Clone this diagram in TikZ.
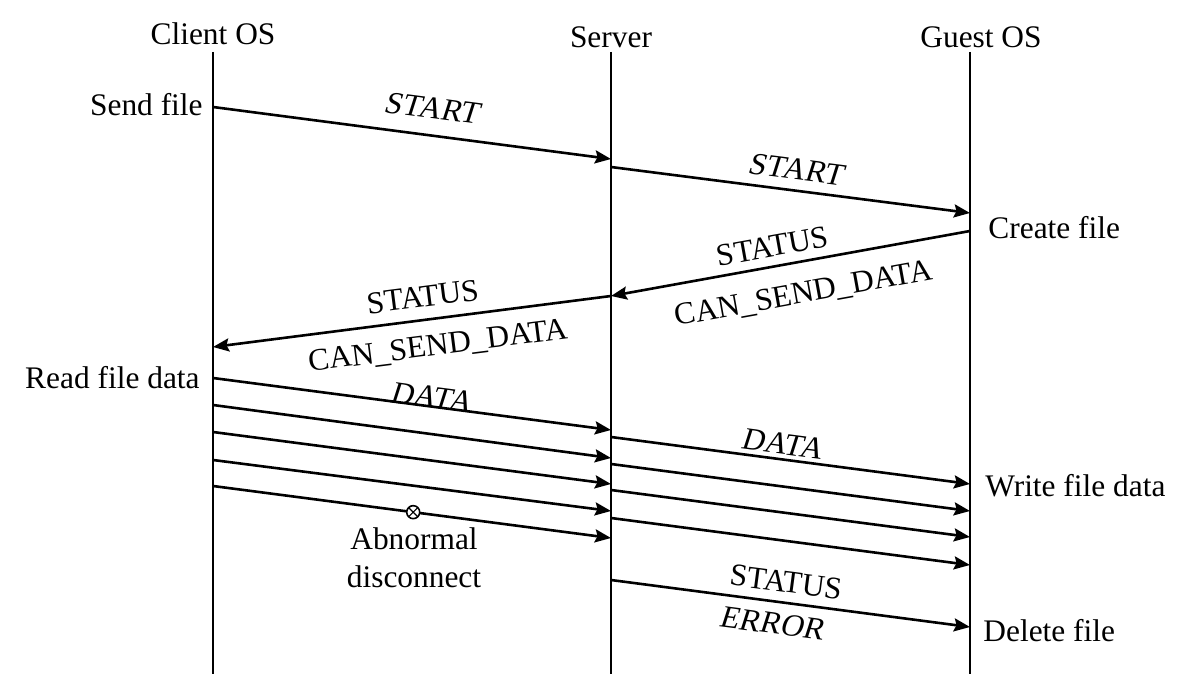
\documentclass[tikz,border=0pt]{standalone}
\usepackage{fontspec}
\setmainfont{Liberation Serif}
\newfontfamily\slantrm[FakeSlant=0.18]{Liberation Serif}
\usetikzlibrary{arrows.meta}
\begin{document}
\begin{tikzpicture}[x=0.5pt,y=-0.5pt,
  txt/.style={font=\fontsize{15.7}{18}\selectfont, inner sep=0pt},
  lbl/.style={txt, text height=10.4pt, text depth=0pt, sloped},
  sl/.style={font=\fontsize{15.7}{18}\selectfont\slantrm},
  life/.style={line width=1.1pt},
  msg/.style={line width=1.3pt, -{Stealth[length=8pt,width=6.5pt,inset=1.2pt]}},
  xmark/.style={circle, draw, line width=0.8pt, fill=white, minimum size=6.5pt, inner sep=0pt,
    path picture={\draw[line width=0.6pt] (path picture bounding box.north west) -- (path picture bounding box.south east)
      (path picture bounding box.north east) -- (path picture bounding box.south west);}}
]
\useasboundingbox (0,0) rectangle (1188,674);

% headers
\node[txt, anchor=base] (client) at (213,45) {Client OS};
\node[txt, anchor=base] (server) at (611,48) {Server};
\node[txt, anchor=base] (guest) at (981,48) {Guest OS};

% lifelines
\coordinate (cT) at (213,52); \coordinate (cB) at (213,674);
\coordinate (sT) at (611,52); \coordinate (sB) at (611,674);
\coordinate (gT) at (970,52); \coordinate (gB) at (970,674);
\draw[life] (cT) -- (cB);
\draw[life] (sT) -- (sB);
\draw[life] (gT) -- (gB);

% message points
\coordinate (c1) at (213,107);
\coordinate (s1) at (611,159);
\coordinate (s2) at (611,167);
\coordinate (g1) at (970,213);
\coordinate (g2) at (970,231);
\coordinate (s3) at (611,296);
\coordinate (c2) at (213,347);
\coordinate (s4) at (611,580);
\coordinate (g3) at (970,627);

% START
\draw[msg] (c1) -- (s1) node[lbl, sl, pos=0.54, above=7.8pt] (start1) {START};
\draw[msg] (s2) -- (g1) node[lbl, sl, pos=0.506, above=4.8pt] (start2) {START};
% STATUS CAN_SEND_DATA
\draw[msg] (g2) -- (s3)
  node[lbl, pos=0.54, above=4.3pt] (st1) {STATUS}
  node[lbl, pos=0.48, below=9.5pt] (csd1) {CAN\_SEND\_DATA};
\draw[msg] (s3) -- (c2)
  node[lbl, pos=0.466, above=5.8pt] (st2) {STATUS}
  node[lbl, pos=0.444, below=7.3pt] (csd2) {CAN\_SEND\_DATA};

% DATA client -> server
\foreach \i/\a/\b in {1/378/430, 2/405/458, 3/432/484, 4/460/511, 5/486/538}{
  \coordinate (dc\i) at (213,\a);
  \coordinate (ds\i) at (611,\b);
  \draw[msg] (dc\i) -- (ds\i);
}
\path (dc1) -- (ds1) node[lbl, sl, pos=0.544, above=-0.7pt] (data1) {DATA};

% DATA server -> guest
\foreach \i/\a/\b in {1/437/484, 2/464/511, 3/490/537, 4/518/565}{
  \coordinate (es\i) at (611,\a);
  \coordinate (eg\i) at (970,\b);
  \draw[msg] (es\i) -- (eg\i);
}
\path (es1) -- (eg1) node[lbl, sl, pos=0.47, above=2.3pt] (data2) {DATA};

% abnormal disconnect
\path (dc5) -- (ds5) node[xmark, pos=0.503] (brk) {};
\node[txt, anchor=base] (abn) at (414,549) {Abnormal};
\node[txt, anchor=base] (disc) at (414,587) {disconnect};

% STATUS ERROR
\draw[msg] (s4) -- (g3)
  node[lbl, pos=0.48, above=4.6pt] (st3) {STATUS}
  node[lbl, sl, pos=0.455, below=5.1pt] (err) {ERROR};

% side labels
\node[txt, anchor=base east] (sendfile) at (203,116) {Send file};
\node[txt, anchor=base west] (createfile) at (988,238) {Create file};
\node[txt, anchor=base east] (readfile) at (200,388) {Read file data};
\node[txt, anchor=base west] (writefile) at (985,496) {Write file data};
\node[txt, anchor=base west] (deletefile) at (983,641) {Delete file};
\end{tikzpicture}
\end{document}
